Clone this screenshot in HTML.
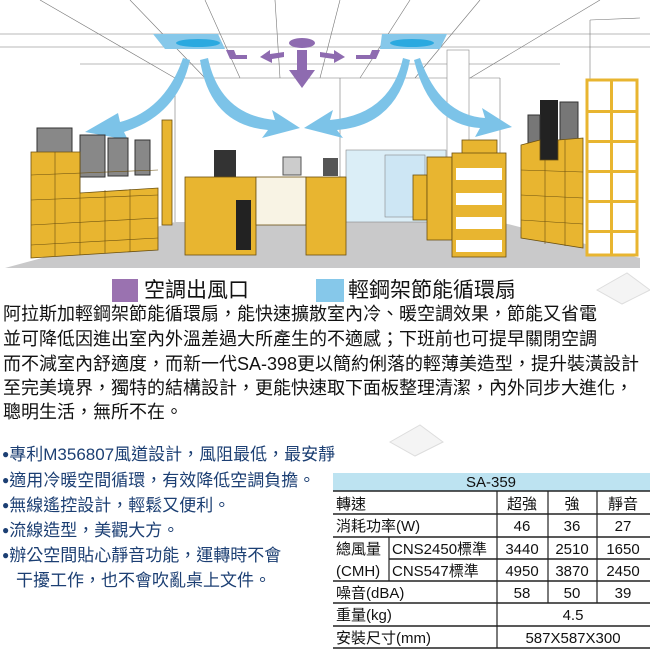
<!DOCTYPE html>
<html><head><meta charset="utf-8">
<style>
html,body{margin:0;padding:0;background:#fff;}
body{width:650px;height:650px;position:relative;overflow:hidden;font-family:"Liberation Sans","Noto Sans CJK TC",sans-serif;}
.t{position:absolute;white-space:nowrap;line-height:1;}
.p{font-size:18px;color:#111;left:3px;letter-spacing:0px;}
.b{font-size:17px;color:#1c3f73;left:2px;}
.b span{font-size:12px;position:relative;top:-2px;}
</style></head><body>
<svg width="650" height="270" style="position:absolute;left:0;top:0" viewBox="0 0 650 270">
<rect width="650" height="270" fill="#fff"/>
<polygon points="5,268 175,222 500,222 640,258 640,268" fill="#c9c9ca"/>
<g stroke="#777" stroke-width="0.6" fill="none">
<line x1="0" y1="34" x2="650" y2="34"/><line x1="0" y1="47" x2="650" y2="47"/>
<line x1="80" y1="64" x2="560" y2="64"/><line x1="175" y1="78" x2="500" y2="78"/>
<line x1="40" y1="0" x2="175" y2="78"/><line x1="130" y1="0" x2="205" y2="78"/>
<line x1="205" y1="0" x2="240" y2="78"/><line x1="275" y1="0" x2="280" y2="78"/>
<line x1="340" y1="0" x2="320" y2="78"/><line x1="410" y1="0" x2="360" y2="78"/>
<line x1="480" y1="0" x2="415" y2="78"/><line x1="600" y1="0" x2="470" y2="78"/>
<line x1="175" y1="78" x2="175" y2="222"/><line x1="500" y1="78" x2="500" y2="222"/>
<line x1="590" y1="20" x2="590" y2="255"/><line x1="590" y1="20" x2="640" y2="18"/>
<line x1="340" y1="78" x2="340" y2="222"/>
</g>
<rect x="346" y="150" width="100" height="72" fill="#dbeef7" stroke="#888" stroke-width="0.6"/>
<rect x="385" y="155" width="40" height="62" fill="#cde6f4" stroke="#888" stroke-width="0.6"/>
<rect x="447" y="50" width="22" height="120" fill="#fff" stroke="#888" stroke-width="0.6"/>
<polygon points="153,34 218,34 225,49 165,49" fill="#86c8ea"/>
<ellipse cx="198" cy="43" rx="22" ry="4" fill="#2aa9e0"/>
<polygon points="382,34 447,34 440,49 380,49" fill="#86c8ea"/>
<ellipse cx="412" cy="43" rx="22" ry="4" fill="#2aa9e0"/>
<g fill="#8e6bb0">
<ellipse cx="302" cy="43" rx="13" ry="5"/>
<rect x="297" y="50" width="10" height="20"/><polygon points="289,70 315,70 302,88"/>
<polygon points="226,50 234,50 236,55 247,55 247,59 230,59"/>
<polygon points="260,57 270,50 270,54 284,52 284,57 272,59 272,63"/>
<polygon points="320,52 334,54 334,50 345,57 334,63 334,59 320,57"/>
<polygon points="356,55 370,55 372,50 380,50 376,59 356,59"/>
</g>
<g fill="#7cc3e8">
<path d="M183,58 Q165,110 120,122 L118,113 L85,132 L128,140 L124,132 Q178,115 190,60 Z"/>
<path d="M208,58 Q220,115 275,120 L272,110 L300,128 L262,138 L268,130 Q210,125 200,60 Z"/>
<path d="M403,58 Q390,115 330,120 L333,110 L304,128 L343,138 L337,130 Q398,125 410,60 Z"/>
<path d="M420,58 Q440,115 485,118 L482,108 L512,127 L475,137 L480,128 Q430,125 414,60 Z"/>
</g>
<rect x="37" y="128" width="35" height="60" fill="#888" stroke="#333"/>
<rect x="80" y="135" width="25" height="42" fill="#888" stroke="#333"/>
<rect x="108" y="138" width="20" height="38" fill="#888" stroke="#333"/>
<rect x="135" y="140" width="15" height="35" fill="#888" stroke="#333"/>
<polygon points="31,152 80,152 80,193 158,188 158,250 31,258" fill="#e8b530" stroke="#6b5010" stroke-width="0.8"/>
<g stroke="#6b5010" stroke-width="0.6"><line x1="31" y1="175" x2="158" y2="170"/><line x1="31" y1="200" x2="158" y2="195"/><line x1="31" y1="225" x2="158" y2="218"/><line x1="31" y1="245" x2="158" y2="238"/><line x1="55" y1="152" x2="55" y2="256"/><line x1="80" y1="152" x2="80" y2="255"/><line x1="105" y1="190" x2="105" y2="253"/><line x1="130" y1="189" x2="130" y2="252"/></g>
<rect x="162" y="120" width="10" height="105" fill="#e8b530" stroke="#6b5010" stroke-width="0.8"/>
<rect x="214" y="150" width="22" height="28" fill="#333"/>
<rect x="283" y="157" width="18" height="18" fill="#ccc" stroke="#555"/>
<rect x="323" y="158" width="15" height="18" fill="#555"/>
<rect x="185" y="177" width="71" height="78" fill="#e8b530" stroke="#6b5010" stroke-width="0.8"/>
<rect x="236" y="200" width="15" height="50" fill="#222"/>
<rect x="256" y="177" width="50" height="48" fill="#f8f3e4" stroke="#6b5010" stroke-width="0.8"/>
<rect x="306" y="177" width="40" height="78" fill="#e8b530" stroke="#6b5010" stroke-width="0.8"/>
<rect x="413" y="175" width="14" height="45" fill="#e8b530" stroke="#6b5010" stroke-width="0.8"/>
<rect x="427" y="157" width="25" height="83" fill="#e8b530" stroke="#6b5010" stroke-width="0.8"/>
<rect x="462" y="140" width="35" height="15" fill="#e8b530" stroke="#6b5010" stroke-width="0.8"/>
<rect x="452" y="153" width="54" height="104" fill="#e8b530" stroke="#6b5010" stroke-width="0.8"/>
<g fill="#fff"><rect x="456" y="168" width="46" height="12"/><rect x="456" y="193" width="46" height="12"/><rect x="456" y="217" width="46" height="12"/><rect x="456" y="240" width="46" height="12"/></g>
<rect x="540" y="100" width="18" height="60" fill="#222"/>
<rect x="560" y="102" width="18" height="40" fill="#777" stroke="#333"/>
<rect x="528" y="115" width="12" height="30" fill="#777" stroke="#333"/>
<polygon points="521,145 540,140 540,160 558,160 558,140 583,138 583,248 521,238" fill="#e8b530" stroke="#6b5010" stroke-width="0.8"/>
<g stroke="#6b5010" stroke-width="0.6"><line x1="521" y1="170" x2="583" y2="172"/><line x1="521" y1="195" x2="583" y2="198"/><line x1="521" y1="220" x2="583" y2="224"/><line x1="545" y1="160" x2="545" y2="244"/><line x1="565" y1="140" x2="565" y2="246"/></g>
<rect x="587" y="80" width="50" height="175" fill="#fff" stroke="#e8b530" stroke-width="3"/>
<g fill="#e8b530"><rect x="587" y="110" width="50" height="3"/><rect x="587" y="140" width="50" height="3"/><rect x="587" y="170" width="50" height="3"/><rect x="587" y="200" width="50" height="3"/><rect x="587" y="230" width="50" height="3"/><rect x="610" y="80" width="3" height="175"/></g>
</svg>
<svg width="60" height="40" style="position:absolute;left:592px;top:268px"><polygon points="5,22 35,5 58,22 30,36" fill="#f4f4f4" stroke="#ddd"/></svg>
<svg width="60" height="40" style="position:absolute;left:385px;top:420px"><polygon points="5,22 35,5 58,22 30,36" fill="#f4f4f4" stroke="#ddd"/></svg>
<div style="position:absolute;left:112px;top:279px;width:26px;height:23px;background:#9a72b0"></div>
<div class="t" style="left:144px;top:280px;font-size:21px;color:#111">空調出風口</div>
<div style="position:absolute;left:316px;top:279px;width:28px;height:23px;background:#86c8ea"></div>
<div class="t" style="left:348px;top:280px;font-size:21px;color:#111">輕鋼架節能循環扇</div>
<div class="t p" style="top:305px">阿拉斯加輕鋼架節能循環扇，能快速擴散室內冷、暖空調效果，節能又省電</div>
<div class="t p" style="top:330px">並可降低因進出室內外溫差過大所產生的不適感；下班前也可提早關閉空調</div>
<div class="t p" style="top:355px">而不減室內舒適度，而新一代SA-398更以簡約俐落的輕薄美造型，提升裝潢設計</div>
<div class="t p" style="top:379px">至完美境界，獨特的結構設計，更能快速取下面板整理清潔，內外同步大進化，</div>
<div class="t p" style="top:403px">聰明生活，無所不在。</div>
<div class="t b" style="top:446px"><span>●</span>專利M356807風道設計，風阻最低，最安靜</div>
<div class="t b" style="top:472px"><span>●</span>適用冷暖空間循環，有效降低空調負擔。</div>
<div class="t b" style="top:497px"><span>●</span>無線遙控設計，輕鬆又便利。</div>
<div class="t b" style="top:522px"><span>●</span>流線造型，美觀大方。</div>
<div class="t b" style="top:547px"><span>●</span>辦公空間貼心靜音功能，運轉時不會</div>
<div class="t b" style="top:572px;left:16px">干擾工作，也不會吹亂桌上文件。</div>
<svg width="320" height="180" style="position:absolute;left:330px;top:470px" viewBox="330 470 320 180">
<rect x="333" y="473" width="317" height="18" fill="#bde3f1"/>
<g stroke="#222" stroke-width="1.6">
<line x1="333" y1="491" x2="650" y2="491"/><line x1="333" y1="514" x2="650" y2="514"/>
<line x1="333" y1="537" x2="650" y2="537"/><line x1="389" y1="559" x2="650" y2="559"/>
<line x1="333" y1="581" x2="650" y2="581"/><line x1="333" y1="603" x2="650" y2="603"/>
<line x1="333" y1="626" x2="650" y2="626"/><line x1="333" y1="648" x2="650" y2="648"/>
</g>
<g stroke="#222" stroke-width="1.2">
<line x1="497" y1="491" x2="497" y2="648"/><line x1="548" y1="491" x2="548" y2="603"/><line x1="597" y1="491" x2="597" y2="603"/><line x1="389" y1="537" x2="389" y2="581"/>
</g>
<g font-family="Liberation Sans, Noto Sans CJK TC, sans-serif" font-size="15" fill="#111">
<text x="491" y="487" text-anchor="middle">SA-359</text>
<text x="336" y="509">轉速</text>
<text x="522" y="509" text-anchor="middle">超強</text><text x="572" y="509" text-anchor="middle">強</text><text x="623" y="509" text-anchor="middle">靜音</text>
<text x="336" y="531">消耗功率(W)</text>
<text x="522" y="531" text-anchor="middle">46</text><text x="572" y="531" text-anchor="middle">36</text><text x="623" y="531" text-anchor="middle">27</text>
<text x="336" y="554">總風量</text><text x="336" y="576">(CMH)</text>
<text x="392" y="554">CNS2450標準</text><text x="392" y="576">CNS547標準</text>
<text x="522" y="554" text-anchor="middle">3440</text><text x="572" y="554" text-anchor="middle">2510</text><text x="623" y="554" text-anchor="middle">1650</text>
<text x="522" y="576" text-anchor="middle">4950</text><text x="572" y="576" text-anchor="middle">3870</text><text x="623" y="576" text-anchor="middle">2450</text>
<text x="336" y="598">噪音(dBA)</text>
<text x="522" y="598" text-anchor="middle">58</text><text x="572" y="598" text-anchor="middle">50</text><text x="623" y="598" text-anchor="middle">39</text>
<text x="336" y="620">重量(kg)</text><text x="573" y="620" text-anchor="middle">4.5</text>
<text x="336" y="643">安裝尺寸(mm)</text><text x="573" y="643" text-anchor="middle">587X587X300</text>
</g>
</svg>
</body></html>
